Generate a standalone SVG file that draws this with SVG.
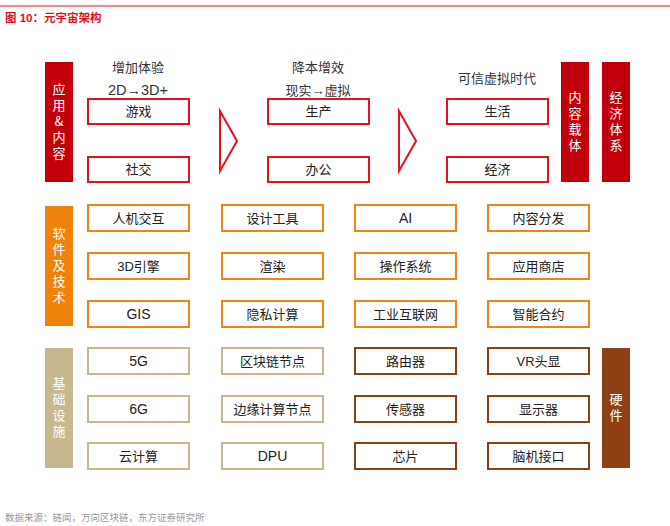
<svg xmlns="http://www.w3.org/2000/svg" width="670" height="526" viewBox="0 0 670 526">
<style>
text{font-family:"Liberation Sans","Noto Sans CJK SC",sans-serif;}
.t{font-size:13px;fill:#222;text-anchor:middle;}
.l{font-size:14px;}
.h{font-size:13px;fill:#333;text-anchor:middle;}
.v{font-family:"Noto Sans CJK SC",sans-serif;font-size:13px;fill:#fff;text-anchor:middle;writing-mode:vertical-rl;text-orientation:upright;letter-spacing:3px;}
.br{fill:#fff;stroke:#E3121C;stroke-width:2;}
.bo{fill:#fff;stroke:#EF8410;stroke-width:2;}
.bt{fill:#fff;stroke:#C8B88F;stroke-width:2;}
.bb{fill:#fff;stroke:#8E3F14;stroke-width:2;}
</style>
<rect width="670" height="526" fill="#fff"/>
<line x1="0" y1="6" x2="670" y2="6" stroke="#D9141C" stroke-width="1"/>
<text x="5" y="22" font-size="11.5" font-weight="bold" fill="#D9141C">图 10：元宇宙架构</text>
<text x="5" y="521" font-size="9.5" fill="#9a9a9a">数据来源：链闻，万向区块链，东方证券研究所</text>

<g id="bar-app"><rect x="45" y="62" width="28" height="120" fill="#C2000B"/>
<text class="v" x="59" y="123">应用&amp;内容</text></g>
<g id="bar-carrier"><rect x="561" y="62" width="28" height="120" fill="#C2000B"/>
<text class="v" x="575" y="123">内容载体</text></g>
<g id="bar-econ"><rect x="602" y="62" width="28" height="120" fill="#C2000B"/>
<text class="v" x="616" y="123">经济体系</text></g>

<g id="head1"><text class="h" x="138" y="72">增加体验</text><text class="h" x="138" y="95" style="font-size:14.5px">2D→3D+</text></g>
<g id="head2"><text class="h" x="318" y="72">降本增效</text><text class="h" x="318" y="95">现实→虚拟</text></g>
<g id="head3"><text class="h" x="497" y="83">可信虚拟时代</text></g>

<g id="n-game"><rect class="br" x="88" y="99" width="101" height="25"/><text class="t" x="138.5" y="116">游戏</text></g>
<g id="n-social"><rect class="br" x="88" y="157" width="101" height="25"/><text class="t" x="138.5" y="174">社交</text></g>
<g id="n-prod"><rect class="br" x="268" y="99" width="101" height="25"/><text class="t" x="318.5" y="116">生产</text></g>
<g id="n-office"><rect class="br" x="268" y="157" width="101" height="25"/><text class="t" x="318.5" y="174">办公</text></g>
<g id="n-life"><rect class="br" x="447" y="99" width="101" height="25"/><text class="t" x="497.5" y="116">生活</text></g>
<g id="n-econ"><rect class="br" x="447" y="157" width="101" height="25"/><text class="t" x="497.5" y="174">经济</text></g>

<g id="connectors" fill="#fff" stroke="#E3121C" stroke-width="2">
<polygon points="220,111 237,141 220,171"/>
<polygon points="399,111 416,141 399,171"/>
</g>

<g id="bar-soft"><rect x="45" y="206" width="28" height="120" fill="#EF8208"/>
<text class="v" x="59" y="267">软件及技术</text></g>

<g id="n-hci"><rect class="bo" x="88" y="205" width="101" height="26"/><text class="t" x="138.5" y="223">人机交互</text></g>
<g id="n-3d"><rect class="bo" x="88" y="253" width="101" height="26"/><text class="t" x="138.5" y="271">3D引擎</text></g>
<g id="n-gis"><rect class="bo" x="88" y="301" width="101" height="26"/><text class="t l" x="138.5" y="319">GIS</text></g>
<g id="n-design"><rect class="bo" x="222" y="205" width="101" height="26"/><text class="t" x="272.5" y="223">设计工具</text></g>
<g id="n-render"><rect class="bo" x="222" y="253" width="101" height="26"/><text class="t" x="272.5" y="271">渲染</text></g>
<g id="n-privacy"><rect class="bo" x="222" y="301" width="101" height="26"/><text class="t" x="272.5" y="319">隐私计算</text></g>
<g id="n-ai"><rect class="bo" x="355" y="205" width="101" height="26"/><text class="t l" x="405.5" y="223">AI</text></g>
<g id="n-os"><rect class="bo" x="355" y="253" width="101" height="26"/><text class="t" x="405.5" y="271">操作系统</text></g>
<g id="n-iiot"><rect class="bo" x="355" y="301" width="101" height="26"/><text class="t" x="405.5" y="319">工业互联网</text></g>
<g id="n-dist"><rect class="bo" x="488" y="205" width="101" height="26"/><text class="t" x="538.5" y="223">内容分发</text></g>
<g id="n-store"><rect class="bo" x="488" y="253" width="101" height="26"/><text class="t" x="538.5" y="271">应用商店</text></g>
<g id="n-contract"><rect class="bo" x="488" y="301" width="101" height="26"/><text class="t" x="538.5" y="319">智能合约</text></g>

<g id="bar-infra"><rect x="45" y="348" width="28" height="120" fill="#C8B88F"/>
<text class="v" x="59" y="409">基础设施</text></g>
<g id="bar-hw"><rect x="602" y="348" width="28" height="120" fill="#8E3F14"/>
<text class="v" x="616" y="409">硬件</text></g>

<g id="n-5g"><rect class="bt" x="88" y="348" width="101" height="26"/><text class="t l" x="138.5" y="366">5G</text></g>
<g id="n-6g"><rect class="bt" x="88" y="396" width="101" height="26"/><text class="t l" x="138.5" y="414">6G</text></g>
<g id="n-cloud"><rect class="bt" x="88" y="443" width="101" height="26"/><text class="t" x="138.5" y="461">云计算</text></g>
<g id="n-bc"><rect class="bt" x="222" y="348" width="101" height="26"/><text class="t" x="272.5" y="366">区块链节点</text></g>
<g id="n-edge"><rect class="bt" x="222" y="396" width="101" height="26"/><text class="t" x="272.5" y="414">边缘计算节点</text></g>
<g id="n-dpu"><rect class="bt" x="222" y="443" width="101" height="26"/><text class="t l" x="272.5" y="461">DPU</text></g>
<g id="n-router"><rect class="bb" x="355" y="348" width="101" height="26"/><text class="t" x="405.5" y="366">路由器</text></g>
<g id="n-sensor"><rect class="bb" x="355" y="396" width="101" height="26"/><text class="t" x="405.5" y="414">传感器</text></g>
<g id="n-chip"><rect class="bb" x="355" y="443" width="101" height="26"/><text class="t" x="405.5" y="461">芯片</text></g>
<g id="n-vr"><rect class="bb" x="488" y="348" width="101" height="26"/><text class="t" x="538.5" y="366">VR头显</text></g>
<g id="n-display"><rect class="bb" x="488" y="396" width="101" height="26"/><text class="t" x="538.5" y="414">显示器</text></g>
<g id="n-bci"><rect class="bb" x="488" y="443" width="101" height="26"/><text class="t" x="538.5" y="461">脑机接口</text></g>
</svg>
